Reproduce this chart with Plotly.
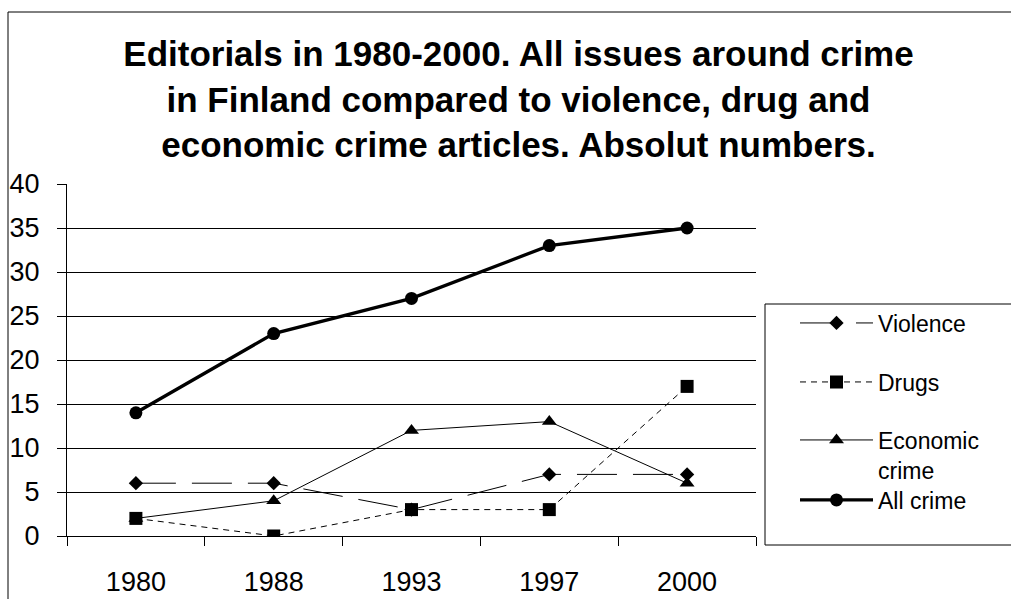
import plotly.graph_objects as go

years = ["1980", "1988", "1993", "1997", "2000"]
violence = [6, 6, 3, 7, 7]
drugs = [2, 0, 3, 3, 17]
economic = [2, 4, 12, 13, 6]
all_crime = [14, 23, 27, 33, 35]

y_ticks = [0, 5, 10, 15, 20, 25, 30, 35, 40]

title_text = ("Editorials in 1980-2000. All issues around crime<br>"
              "in Finland compared to violence, drug and<br>"
              "economic crime articles. Absolut numbers.")

FONT = "Liberation Sans, Arial, sans-serif"
W, H = 1011, 599
L, R, T, B = 67, 756, 184, 536  # plot area pixel bounds


def px_x(p):
    return (p - L) / (R - L)


def px_y(p):
    return (B - p) / (B - T)


fig = go.Figure()
fig.add_trace(go.Scatter(
    x=years, y=violence, name="Violence", mode="lines+markers",
    line=dict(color="black", width=1, dash="40px,16px"),
    marker=dict(symbol="diamond", size=11, color="black"),
    legend="legend"))
fig.add_trace(go.Scatter(
    x=years, y=drugs, name="Drugs", mode="lines+markers",
    line=dict(color="black", width=1, dash="6px,5px"),
    marker=dict(symbol="square", size=13, color="black"),
    legend="legend2"))
fig.add_trace(go.Scatter(
    x=years, y=economic, name="Economic<br>crime", mode="lines+markers",
    line=dict(color="black", width=1),
    marker=dict(symbol="triangle-up", size=13, color="black"),
    legend="legend3"))
fig.add_trace(go.Scatter(
    x=years, y=all_crime, name="All crime", mode="lines+markers",
    line=dict(color="black", width=3.3),
    marker=dict(symbol="circle", size=13, color="black"),
    legend="legend4"))

leg_common = dict(x=px_x(795), xanchor="left", yanchor="middle",
                  itemwidth=73, valign="top", borderwidth=0,
                  bgcolor="rgba(0,0,0,0)",
                  font=dict(family=FONT, size=23, color="black"))

fig.update_layout(
    width=W, height=H,
    margin=dict(l=L, r=W - R, t=T, b=H - B, autoexpand=False),
    paper_bgcolor="white", plot_bgcolor="white",
    title=dict(text=title_text, x=518.5 / W, xref="container", xanchor="center",
               y=1 - 66 / H, yref="container", yanchor="top",
               font=dict(family=FONT, size=35, color="black", weight="bold")),
    showlegend=True,
    legend=dict(y=px_y(323), **leg_common),
    legend2=dict(y=px_y(382), **leg_common),
    legend3=dict(y=px_y(455), **leg_common),
    legend4=dict(y=px_y(500), **leg_common),
    xaxis=dict(type="category", range=[-0.5, 4.5], showgrid=False, zeroline=False,
               showline=True, linecolor="black", linewidth=1,
               ticks="outside", tickson="boundaries", ticklen=9, tickcolor="black",
               tickfont=dict(family=FONT, size=27, color="black"),
               ticklabelstandoff=22),
    yaxis=dict(range=[0, 40], tickvals=y_ticks, showgrid=True, gridcolor="black",
               gridwidth=1, zeroline=False, showline=True, linecolor="black",
               linewidth=1, ticks="outside", ticklen=9, tickcolor="black",
               tickfont=dict(family=FONT, size=27, color="black"),
               ticklabelstandoff=12),
    shapes=[
        dict(type="rect", xref="paper", yref="paper",
             x0=px_x(8), x1=px_x(1040), y0=px_y(640), y1=px_y(12),
             line=dict(color="black", width=1), fillcolor="rgba(0,0,0,0)",
             layer="below"),
        dict(type="rect", xref="paper", yref="paper",
             x0=px_x(765), x1=px_x(1040), y0=px_y(545), y1=px_y(304),
             line=dict(color="black", width=1), fillcolor="rgba(0,0,0,0)",
             layer="below"),
    ],
)

fig.write_html("out.html", config={"displayModeBar": False},
               post_script="document.body.style.margin='0';document.body.style.overflow='hidden';")
